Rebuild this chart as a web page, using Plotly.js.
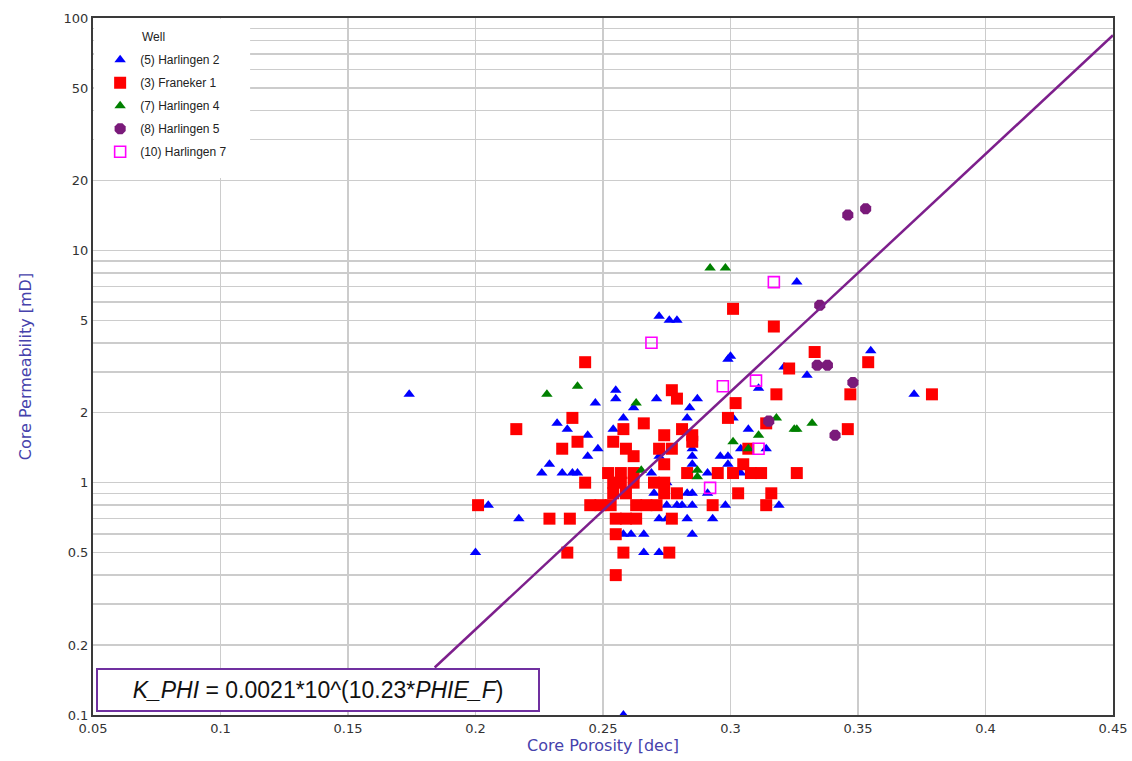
<!DOCTYPE html>
<html>
<head>
<meta charset="utf-8">
<script src="https://cdn.plot.ly/plotly-3.0.1.min.js"></script>
<style>html,body{margin:0;padding:0;background:#fff}</style>
</head>
<body>
<div id="chart" style="width:1132px;height:761px"></div>
<script>
// Core porosity (dec) and core permeability (mD) per well
const porH2 = [0.174,0.200,0.205,0.217,0.258,0.272,0.276,0.279,0.326,0.372,0.355,0.300,0.299,0.330,0.321,0.311,0.255,0.255,0.247,0.271,0.262,0.287,0.284,0.283,0.258,0.254,0.232,0.236,0.244,0.248,0.244,0.229,0.226,0.234,0.238,0.240,0.269,0.272,0.285,0.285,0.285,0.275,0.270,0.283,0.285,0.275,0.279,0.281,0.285,0.272,0.275,0.283,0.293,0.285,0.258,0.261,0.266,0.266,0.272,0.307,0.304,0.314,0.296,0.299,0.299,0.291,0.304,0.301,0.291,0.298,0.319];
const permH2 = [2.4,0.5,0.8,0.7,0.1,5.2,5.0,5.0,7.3,2.4,3.7,3.5,3.4,2.9,3.15,2.55,2.5,2.3,2.2,2.3,2.1,2.3,2.1,1.9,1.9,1.7,1.8,1.7,1.6,1.4,1.3,1.2,1.1,1.1,1.1,1.1,1.1,1.3,1.4,1.3,1.2,1.0,0.9,0.9,0.9,0.8,0.8,0.8,0.8,0.7,0.7,0.7,0.7,0.6,0.6,0.6,0.6,0.5,0.5,1.7,1.4,1.4,1.3,1.3,1.2,1.1,1.1,1.9,0.9,0.8,0.8];

const porF1 = [0.201,0.216,0.229,0.237,0.236,0.234,0.238,0.240,0.243,0.243,0.245,0.249,0.253,0.252,0.257,0.254,0.258,0.259,0.262,0.266,0.274,0.272,0.277,0.274,0.262,0.254,0.257,0.262,0.254,0.259,0.270,0.274,0.274,0.279,0.263,0.267,0.271,0.255,0.259,0.263,0.277,0.255,0.258,0.276,0.255,0.277,0.279,0.281,0.285,0.285,0.283,0.295,0.301,0.308,0.312,0.326,0.303,0.316,0.293,0.314,0.305,0.307,0.299,0.302,0.314,0.318,0.323,0.333,0.317,0.301,0.354,0.379,0.347,0.346];
const permF1 = [0.8,1.7,0.7,0.7,0.5,1.4,1.9,1.5,3.3,1.0,0.8,0.8,0.8,1.1,1.1,1.5,1.7,1.4,1.3,1.8,1.6,1.4,1.4,1.2,1.1,1.0,1.0,1.0,0.9,0.9,1.0,1.0,0.9,0.9,0.8,0.8,0.8,0.7,0.7,0.7,0.7,0.6,0.5,0.5,0.4,2.5,2.3,1.7,1.6,1.5,1.1,1.1,1.1,1.1,1.1,1.1,0.9,0.9,0.8,0.8,1.2,1.4,1.9,2.2,1.8,2.4,3.1,3.65,4.7,5.6,3.3,2.4,2.4,1.7];

const porH4 = [0.228,0.240,0.263,0.265,0.292,0.298,0.287,0.287,0.301,0.307,0.311,0.318,0.325,0.326,0.332];
const permH4 = [2.4,2.6,2.2,1.13,8.4,8.4,1.13,1.06,1.5,1.4,1.6,1.9,1.7,1.7,1.8];

const porH5 = [0.346,0.353,0.335,0.334,0.338,0.348,0.315,0.341];
const permH5 = [14.2,15.1,5.8,3.2,3.2,2.7,1.84,1.6];

const porH7 = [0.269,0.317,0.297,0.310,0.311,0.292];
const permH7 = [4.0,7.3,2.6,2.75,1.4,0.95];

// Porosity-permeability transform K_PHI = a * 10^(b * PHIE), drawn above the equation box
const fitA = 0.0021;
const fitB = 10.23;
const fitPor = [0.184, 0.45];

// Axis ticks: labels on 1-2-5 steps, grid on every log step
const xTicks = [0.05,0.1,0.15,0.2,0.25,0.3,0.35,0.4,0.45];
const xTickText = ['0.05','0.1','0.15','0.2','0.25','0.3','0.35','0.4','0.45'];
const yGrid = [0.1,0.2,0.3,0.4,0.5,0.6,0.7,0.8,0.9,1,2,3,4,5,6,7,8,9,10,20,30,40,50,60,70,80,90,100];
const yLabelled = {0.1:'0.1',0.2:'0.2',0.5:'0.5',1:'1',2:'2',5:'5',10:'10',20:'20',50:'50',100:'100'};
const yTickText = yGrid.map(v => yLabelled[v] || '');

function well(name, x, y, marker) {
  return {
    type: 'scatter', mode: 'markers', name: name, x: x, y: y,
    legendgroup: name, marker: marker, hoverinfo: 'x+y+name'
  };
}

const traces = [
  well('(5) Harlingen 2', porH2, permH2, {symbol: 'triangle-up', color: '#0000ff', size: 10, line: {width: 0}}),
  well('(3) Franeker 1', porF1, permF1, {symbol: 'square', color: '#ff0000', size: 12, line: {width: 0}}),
  well('(7) Harlingen 4', porH4, permH4, {symbol: 'triangle-up', color: '#008000', size: 10, line: {width: 0}}),
  well('(8) Harlingen 5', porH5, permH5, {symbol: 'octagon', color: '#7a1a7a', size: 12, line: {width: 0}}),
  well('(10) Harlingen 7', porH7, permH7, {symbol: 'square-open', color: '#ff00ff', size: 11, line: {width: 1.6, color: '#ff00ff'}}),
  {
    type: 'scatter', mode: 'lines', x: fitPor,
    y: fitPor.map(p => fitA * Math.pow(10, fitB * p)),
    line: {color: '#7d1f8c', width: 2.5}, showlegend: false, hoverinfo: 'skip'
  }
];

const tickFont = {family: 'DejaVu Sans', size: 13, color: '#333'};
const titleFont = {family: 'DejaVu Sans', size: 16, color: '#4642ac'};
const legendFont = {family: 'Liberation Sans', size: 12, color: '#222'};

const layout = {
  width: 1132, height: 761,
  margin: {l: 93, r: 19, t: 18, b: 46},
  paper_bgcolor: '#fff', plot_bgcolor: '#fff',
  showlegend: true,
  xaxis: {
    range: [0.05, 0.45], tickvals: xTicks, ticktext: xTickText,
    showgrid: true, gridcolor: '#cccccc', gridwidth: 1.5,
    showline: true, linecolor: '#3a3a3a', linewidth: 2, mirror: true,
    zeroline: false, ticks: '', tickfont: tickFont,
    title: {text: 'Core Porosity [dec]', font: titleFont, standoff: 4}
  },
  yaxis: {
    type: 'log', range: [-1, 2], tickvals: yGrid, ticktext: yTickText,
    showgrid: true, gridcolor: '#cccccc', gridwidth: 1.5,
    showline: true, linecolor: '#3a3a3a', linewidth: 2, mirror: true,
    zeroline: false, ticks: '', tickfont: tickFont,
    title: {text: 'Core Permeability [mD]', font: titleFont, standoff: 28}
  },
  legend: {
    x: 0.007, y: 0.961, xanchor: 'left', yanchor: 'top',
    bgcolor: 'rgba(255,255,255,0)', borderwidth: 0,
    font: legendFont, tracegroupgap: 4, itemsizing: 'trace'
  },
  // white panel behind the legend block, covering the grid there
  shapes: [{
    type: 'rect', xref: 'paper', yref: 'paper', layer: 'above',
    x0: 0.001, x1: 0.154, y0: 0.7704, y1: 0.999,
    fillcolor: '#ffffff', line: {width: 0}
  }],
  annotations: [
    {
      xref: 'paper', yref: 'paper', x: 0.046, y: 0.9727,
      xanchor: 'left', yanchor: 'middle', showarrow: false,
      text: 'Well', font: legendFont
    },
    {
      xref: 'paper', yref: 'paper', x: 0.2206, y: 0.0359,
      xanchor: 'center', yanchor: 'middle', showarrow: false,
      text: '<i>K_PHI</i> = 0.0021*10^(10.23*<i>PHIE_F</i>)',
      font: {family: 'Liberation Sans', size: 23, color: '#111'},
      bgcolor: '#ffffff', bordercolor: '#7030a0', borderwidth: 2, borderpad: 0,
      width: 440, height: 40
    }
  ]
};

Plotly.newPlot('chart', traces, layout, {displayModeBar: false, staticPlot: true});
</script>
</body>
</html>
